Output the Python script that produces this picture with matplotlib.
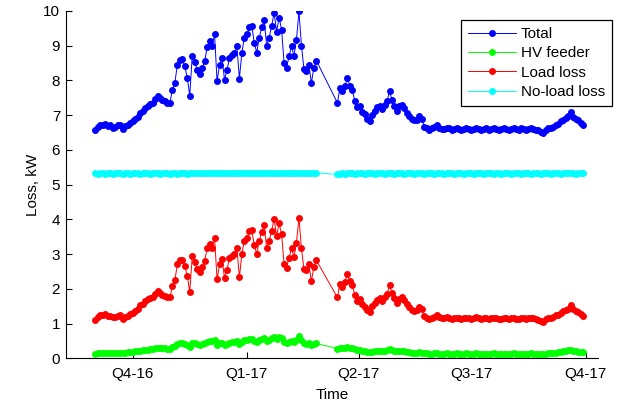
import matplotlib
matplotlib.use('Agg')
import matplotlib.pyplot as plt
import pandas as pd

plt.rcParams['font.family'] = ['Liberation Sans', 'DejaVu Sans']

# two measuring periods, one reading every 2 days, gap in early March 2017
dates1 = pd.date_range('2016-09-01', '2017-02-26', freq='2D')
dates2 = pd.date_range('2017-03-15', '2017-09-29', freq='2D')

total1 = [6.56, 6.65, 6.72, 6.70, 6.75, 6.68, 6.70, 6.64, 6.66, 6.70,
          6.72, 6.61, 6.68, 6.72, 6.78, 6.82, 6.88, 6.95, 7.07, 7.12,
          7.20, 7.27, 7.32, 7.36, 7.45, 7.56, 7.50, 7.44, 7.40, 7.36,
          7.35, 7.73, 7.93, 8.45, 8.58, 8.60, 8.40, 8.07, 7.56, 8.71,
          8.52, 8.30, 8.19, 8.35, 8.55, 8.95, 9.12, 8.98, 9.32, 7.97,
          8.45, 8.64, 8.02, 8.29, 8.65, 8.72, 8.80, 8.98, 8.05, 8.80,
          9.23, 9.32, 9.52, 9.56, 9.08, 8.80, 9.23, 9.52, 9.73, 8.98,
          9.23, 9.56, 9.94, 9.40, 9.80, 9.46, 8.50, 8.36, 8.69, 8.98,
          8.70, 9.17, 9.99, 9.00, 8.33, 8.26, 8.45, 7.92, 8.36, 8.57]
total2 = [7.35, 7.78, 7.68, 7.83, 8.07, 7.85, 7.73, 7.40, 7.22, 7.27,
          7.10, 7.02, 6.90, 6.82, 7.01, 7.12, 7.22, 7.27, 7.18, 7.28,
          7.40, 7.68, 7.44, 7.27, 7.12, 7.25, 7.28, 7.20, 7.05, 6.96,
          6.88, 6.85, 6.87, 6.96, 6.90, 6.67, 6.62, 6.58, 6.62, 6.66,
          6.70, 6.64, 6.61, 6.60, 6.64, 6.62, 6.58, 6.60, 6.63, 6.60,
          6.57, 6.60, 6.63, 6.60, 6.58, 6.61, 6.64, 6.60, 6.57, 6.60,
          6.62, 6.58, 6.61, 6.63, 6.60, 6.57, 6.59, 6.62, 6.60, 6.57,
          6.61, 6.63, 6.59, 6.58, 6.62, 6.60, 6.57, 6.61, 6.63, 6.60,
          6.58, 6.56, 6.52, 6.48, 6.58, 6.63, 6.62, 6.66, 6.72, 6.75,
          6.82, 6.87, 6.92, 6.98, 7.10, 6.95, 6.88, 6.85, 6.78, 6.72]

hv1 = [0.13, 0.14, 0.14, 0.14, 0.15, 0.14, 0.15, 0.14, 0.15, 0.15,
       0.16, 0.15, 0.16, 0.17, 0.18, 0.19, 0.20, 0.21, 0.22, 0.23,
       0.24, 0.25, 0.26, 0.27, 0.29, 0.31, 0.31, 0.30, 0.29, 0.28,
       0.28, 0.33, 0.36, 0.42, 0.44, 0.44, 0.42, 0.38, 0.33, 0.45,
       0.43, 0.41, 0.39, 0.41, 0.43, 0.47, 0.50, 0.49, 0.53, 0.38,
       0.43, 0.45, 0.39, 0.42, 0.45, 0.46, 0.47, 0.49, 0.40, 0.47,
       0.52, 0.53, 0.55, 0.56, 0.51, 0.48, 0.53, 0.56, 0.58, 0.50,
       0.53, 0.57, 0.62, 0.56, 0.60, 0.57, 0.46, 0.44, 0.47, 0.50,
       0.47, 0.52, 0.63, 0.52, 0.43, 0.41, 0.43, 0.38, 0.41, 0.43]
hv2 = [0.28, 0.31, 0.30, 0.31, 0.33, 0.31, 0.29, 0.26, 0.24, 0.24,
       0.22, 0.21, 0.19, 0.17, 0.19, 0.20, 0.21, 0.21, 0.20, 0.21,
       0.23, 0.26, 0.24, 0.22, 0.20, 0.21, 0.21, 0.20, 0.18, 0.17,
       0.16, 0.16, 0.16, 0.17, 0.16, 0.14, 0.14, 0.13, 0.13, 0.14,
       0.14, 0.13, 0.13, 0.13, 0.14, 0.13, 0.13, 0.13, 0.14, 0.13,
       0.13, 0.13, 0.14, 0.13, 0.13, 0.13, 0.14, 0.13, 0.13, 0.13,
       0.13, 0.13, 0.13, 0.14, 0.13, 0.13, 0.13, 0.13, 0.13, 0.13,
       0.13, 0.14, 0.13, 0.13, 0.13, 0.13, 0.13, 0.13, 0.14, 0.13,
       0.13, 0.13, 0.12, 0.12, 0.13, 0.14, 0.14, 0.15, 0.16, 0.17,
       0.19, 0.20, 0.21, 0.23, 0.24, 0.22, 0.20, 0.19, 0.18, 0.17]

load1 = [1.11, 1.19, 1.26, 1.24, 1.28, 1.22, 1.23, 1.18, 1.19, 1.23,
         1.24, 1.14, 1.20, 1.23, 1.28, 1.31, 1.36, 1.42, 1.53, 1.57,
         1.64, 1.70, 1.74, 1.77, 1.84, 1.93, 1.87, 1.82, 1.79, 1.76,
         1.75, 2.08, 2.25, 2.71, 2.82, 2.84, 2.66, 2.37, 1.91, 2.94,
         2.77, 2.57, 2.48, 2.62, 2.80, 3.16, 3.30, 3.17, 3.47, 2.27,
         2.70, 2.87, 2.31, 2.55, 2.88, 2.94, 3.01, 3.17, 2.33, 3.01,
         3.39, 3.47, 3.65, 3.68, 3.25, 3.00, 3.38, 3.64, 3.83, 3.16,
         3.38, 3.67, 4.00, 3.52, 3.88, 3.57, 2.72, 2.60, 2.90, 3.16,
         2.91, 3.33, 4.04, 3.16, 2.58, 2.53, 2.70, 2.22, 2.63, 2.82]
load2 = [1.75, 2.15, 2.06, 2.20, 2.42, 2.22, 2.12, 1.82, 1.66, 1.71,
         1.56, 1.49, 1.39, 1.33, 1.50, 1.60, 1.69, 1.74, 1.66, 1.75,
         1.85, 2.10, 1.88, 1.73, 1.60, 1.72, 1.75, 1.68, 1.55, 1.47,
         1.40, 1.37, 1.39, 1.47, 1.42, 1.21, 1.16, 1.13, 1.17, 1.20,
         1.24, 1.19, 1.16, 1.15, 1.18, 1.17, 1.13, 1.15, 1.17, 1.15,
         1.12, 1.15, 1.17, 1.15, 1.13, 1.16, 1.18, 1.15, 1.12, 1.15,
         1.17, 1.13, 1.16, 1.17, 1.15, 1.12, 1.14, 1.17, 1.15, 1.12,
         1.16, 1.17, 1.14, 1.13, 1.17, 1.15, 1.12, 1.16, 1.17, 1.15,
         1.13, 1.11, 1.08, 1.04, 1.13, 1.17, 1.16, 1.19, 1.24, 1.26,
         1.31, 1.35, 1.39, 1.43, 1.54, 1.41, 1.36, 1.34, 1.28, 1.23]

noload1 = [5.32, 5.31, 5.33, 5.32, 5.30, 5.33, 5.32, 5.31, 5.32, 5.33,
           5.32, 5.31, 5.32, 5.33, 5.31, 5.32, 5.33, 5.32, 5.31, 5.32,
           5.33, 5.32, 5.31, 5.32, 5.33, 5.32, 5.31, 5.32, 5.33, 5.32,
           5.31, 5.33, 5.32, 5.31, 5.32, 5.33, 5.32, 5.31, 5.33, 5.32,
           5.33, 5.32, 5.34, 5.33, 5.32, 5.34, 5.33, 5.32, 5.34, 5.33,
           5.34, 5.32, 5.33, 5.34, 5.33, 5.34, 5.32, 5.33, 5.34, 5.33,
           5.33, 5.34, 5.32, 5.33, 5.34, 5.33, 5.32, 5.34, 5.33, 5.34,
           5.33, 5.32, 5.34, 5.33, 5.34, 5.32, 5.33, 5.34, 5.33, 5.32,
           5.34, 5.33, 5.32, 5.34, 5.33, 5.34, 5.33, 5.32, 5.33, 5.34]
noload2 = [5.29, 5.30, 5.32, 5.31, 5.32, 5.33, 5.32, 5.31, 5.32, 5.33,
           5.32, 5.31, 5.32, 5.33, 5.32, 5.31, 5.32, 5.33, 5.32, 5.31,
           5.32, 5.33, 5.32, 5.31, 5.32, 5.33, 5.32, 5.31, 5.32, 5.33,
           5.32, 5.31, 5.32, 5.33, 5.32, 5.31, 5.32, 5.33, 5.32, 5.31,
           5.32, 5.33, 5.32, 5.31, 5.32, 5.33, 5.32, 5.31, 5.32, 5.33,
           5.32, 5.31, 5.32, 5.33, 5.32, 5.31, 5.32, 5.33, 5.32, 5.31,
           5.32, 5.33, 5.32, 5.31, 5.33, 5.32, 5.31, 5.32, 5.33, 5.32,
           5.31, 5.32, 5.33, 5.32, 5.31, 5.32, 5.33, 5.32, 5.31, 5.32,
           5.33, 5.32, 5.31, 5.32, 5.33, 5.32, 5.31, 5.32, 5.33, 5.32,
           5.31, 5.32, 5.33, 5.32, 5.33, 5.32, 5.31, 5.32, 5.33, 5.32]

dates = list(dates1) + list(dates2)
series = [
    ('Total', total1 + total2, (0, 0, 1)),
    ('HV feeder', hv1 + hv2, (0, 1, 0)),
    ('Load loss', load1 + load2, (1, 0, 0)),
    ('No-load loss', noload1 + noload2, (0, 1, 1)),
]

tick_dates = pd.to_datetime(['2016-10-01', '2017-01-01', '2017-04-01',
                             '2017-07-01', '2017-10-01'])
tick_labels = ['Q4-16', 'Q1-17', 'Q2-17', 'Q3-17', 'Q4-17']

fig = plt.figure(figsize=(6.18, 4.05), dpi=100)
ax = fig.add_axes([0.1063, 0.1153, 0.8613, 0.858])

for name, vals, c in series:
    ax.plot(dates, vals, '-', color=c, lw=0.7, marker='o', ms=5,
            mec=c, mew=0, label=name)

ax.set_xlim(pd.Timestamp('2016-08-08'), pd.Timestamp('2017-10-11'))
ax.set_ylim(0, 10)
ax.set_yticks(range(0, 11))
ax.set_xticks(tick_dates)
ax.set_xticklabels(tick_labels)

for s in ['top', 'right']:
    ax.spines[s].set_visible(False)
for s in ['left', 'bottom']:
    ax.spines[s].set_linewidth(0.8)
ax.tick_params(direction='in', length=4, width=0.8, labelsize=11)
ax.tick_params(axis='x', pad=6)
ax.tick_params(axis='y', pad=4)

ax.set_xlabel('Time', fontsize=11, labelpad=5.5)
ax.set_ylabel('Loss, kW', fontsize=11, labelpad=2)

leg = ax.legend(loc='upper right', bbox_to_anchor=(612 / 618, 1 - 20 / 405),
                bbox_transform=fig.transFigure, borderaxespad=0,
                fancybox=False, edgecolor='black', framealpha=1,
                fontsize=11, handlelength=3.1, handletextpad=0.35,
                labelspacing=0.35, borderpad=0.45)
leg.get_frame().set_linewidth(0.9)

fig.savefig('out.png', dpi=100)
